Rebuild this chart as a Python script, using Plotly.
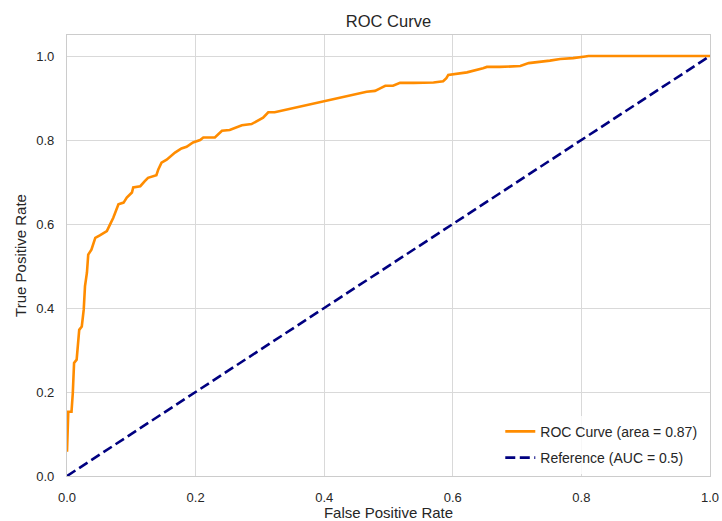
import plotly.graph_objects as go

# ROC curve points
fpr = [0.0, 0.002, 0.007, 0.009, 0.011, 0.015, 0.019, 0.023, 0.026, 0.028, 0.031, 0.033,
       0.038, 0.044, 0.051, 0.062, 0.067, 0.072, 0.080, 0.088, 0.093, 0.101, 0.103, 0.114,
       0.121, 0.126, 0.139, 0.142, 0.147, 0.155, 0.168, 0.178, 0.186, 0.196, 0.207, 0.212,
       0.230, 0.241, 0.253, 0.272, 0.287, 0.297, 0.305, 0.313, 0.323, 0.466, 0.479, 0.487,
       0.495, 0.507, 0.518, 0.539, 0.570, 0.585, 0.590, 0.593, 0.606, 0.622, 0.647, 0.653,
       0.673, 0.705, 0.718, 0.730, 0.751, 0.767, 0.787, 0.806, 0.811, 0.860, 1.0]
tpr = [0.058, 0.153, 0.153, 0.197, 0.269, 0.277, 0.348, 0.356, 0.396, 0.452, 0.484, 0.527,
       0.539, 0.567, 0.573, 0.583, 0.599, 0.615, 0.647, 0.651, 0.663, 0.675, 0.687, 0.690,
       0.702, 0.710, 0.716, 0.730, 0.746, 0.753, 0.770, 0.780, 0.784, 0.794, 0.800, 0.806,
       0.806, 0.822, 0.824, 0.835, 0.838, 0.846, 0.853, 0.866, 0.866, 0.915, 0.917, 0.923,
       0.929, 0.929, 0.936, 0.936, 0.937, 0.940, 0.947, 0.955, 0.957, 0.961, 0.971, 0.974,
       0.974, 0.976, 0.983, 0.985, 0.989, 0.993, 0.995, 0.999, 1.0, 1.0, 1.0]

ref_x = [0.0, 1.0]
ref_y = [0.0, 1.0]

roc_label = "ROC Curve (area = 0.87)"
ref_label = "Reference (AUC = 0.5)"

tick_vals = [0.0, 0.2, 0.4, 0.6, 0.8, 1.0]
tick_text = ["0.0", "0.2", "0.4", "0.6", "0.8", "1.0"]

FONT = "Liberation Sans, Arial, sans-serif"
TXT = "#262626"

fig = go.Figure()
fig.add_trace(go.Scatter(x=fpr, y=tpr, mode="lines", name=roc_label,
                         line=dict(color="#ff8c00", width=2.6), legendgroup="a"))
fig.add_trace(go.Scatter(x=ref_x, y=ref_y, mode="lines", name=ref_label,
                         line=dict(color="#000080", width=2.6, dash="10px,4.5px"),
                         legendgroup="b"))

axis_common = dict(
    showgrid=True, gridcolor="#d9d9d9", gridwidth=1,
    showline=True, linecolor="#cccccc", linewidth=1.2, mirror=True,
    zeroline=False, ticks="", tickfont=dict(family=FONT, size=13, color=TXT),
    tickvals=tick_vals, ticktext=tick_text, automargin=False,
)

fig.update_xaxes(range=[0, 1.0], ticklabelstandoff=9,
                 title=dict(text="False Positive Rate", font=dict(family=FONT, size=15, color=TXT), standoff=5),
                 **axis_common)
fig.update_yaxes(range=[0, 1.05], ticklabelstandoff=9,
                 title=dict(text="True Positive Rate", font=dict(family=FONT, size=15, color=TXT), standoff=5),
                 **axis_common)

fig.update_layout(
    width=722, height=521,
    margin=dict(l=67, r=12, t=35, b=45, autoexpand=False),
    paper_bgcolor="white", plot_bgcolor="white",
    title=dict(text="ROC Curve", x=0.5, xanchor="center", xref="paper",
               y=1 - 21 / 521, yanchor="middle",
               font=dict(family=FONT, size=16.5, color=TXT)),
    font=dict(family=FONT, color=TXT),
    legend=dict(x=0.988, xanchor="right", y=0.005, yanchor="bottom",
                bgcolor="rgba(255,255,255,0.8)", borderwidth=0,
                font=dict(family=FONT, size=14, color=TXT),
                traceorder="grouped", tracegroupgap=5),
    showlegend=True,
)

fig.write_html("out.html", config={"displayModeBar": False},
               post_script="document.body.style.margin='0';document.body.style.overflow='hidden';")
